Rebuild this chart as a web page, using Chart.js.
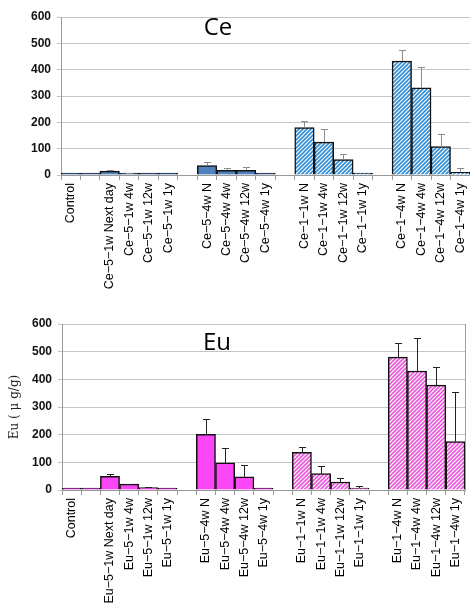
<!DOCTYPE html>
<html>
<head>
<meta charset="utf-8">
<script src="https://cdn.jsdelivr.net/npm/chart.js@4"></script>
<style>
  html, body { margin: 0; padding: 0; background: #fff; overflow: hidden; }
  #wrap { position: relative; width: 470px; height: 608px; overflow: hidden; }
  canvas { position: absolute; left: 0; }
</style>
</head>
<body>
<div id="wrap">
  <canvas id="ceChart" width="470" height="300" style="top:0"></canvas>
  <canvas id="euChart" width="470" height="298" style="top:310px"></canvas>
</div>
<script>
// Data (null = empty slot between groups)
const ceLabels = ['Control', '', 'Ce−5−1w Next day', 'Ce−5−1w 4w', 'Ce−5−1w 12w', 'Ce−5−1w 1y', '',
  'Ce−5−4w N', 'Ce−5−4w 4w', 'Ce−5−4w 12w', 'Ce−5−4w 1y', '',
  'Ce−1−1w N', 'Ce−1−1w 4w', 'Ce−1−1w 12w', 'Ce−1−1w 1y', '',
  'Ce−1−4w N', 'Ce−1−4w 4w', 'Ce−1−4w 12w', 'Ce−1−4w 1y'];
const ceValues = [0, 0, 15, 5, 3, 1, null, 36, 18, 18, 1, null, 180, 125, 59, 1, null, 433, 331, 108, 10];
const ceErrors = [null, null, 5, 1, null, null, null, 14, 7, 11, null, null, 26, 51, 19, null, null, 42, 81, 48, 18];

const euLabels = ['Control', '', 'Eu−5−1w Next day', 'Eu−5−1w 4w', 'Eu−5−1w 12w', 'Eu−5−1w 1y', '',
  'Eu−5−4w N', 'Eu−5−4w 4w', 'Eu−5−4w 12w', 'Eu−5−4w 1y', '',
  'Eu−1−1w N', 'Eu−1−1w 4w', 'Eu−1−1w 12w', 'Eu−1−1w 1y', '',
  'Eu−1−4w N', 'Eu−1−4w 4w', 'Eu−1−4w 12w', 'Eu−1−4w 1y'];
const euValues = [0, 0, 49, 21, 9, 2, null, 201, 98, 48, 7, null, 136, 59, 29, 7, null, 480, 430, 379, 175];
const euErrors = [null, null, 10, 2, 2, null, null, 56, 53, 42, null, null, 21, 28, 16, 9, null, 53, 121, 65, 181];

const yTicks = [0, 100, 200, 300, 400, 500, 600];

// diagonal stripe pattern for the "1" series
function hatch(color) {
    const c = document.createElement('canvas');
    c.width = c.height = 4;
    const g = c.getContext('2d');
    g.fillStyle = '#fff';
    g.fillRect(0, 0, 4, 4);
    g.strokeStyle = color;
    g.lineWidth = 1.6;
    g.beginPath();
    g.moveTo(0, 4); g.lineTo(4, 0);
    g.moveTo(-1, 1); g.lineTo(1, -1);
    g.moveTo(3, 5); g.lineTo(5, 3);
    g.stroke();
    return g.createPattern(c, 'repeat');
}

// upper error bars, drawn with the chart's own scales
const errorBars = {
    id: 'errorBars',
    afterDatasetsDraw(chart, args, opts) {
        const ctx = chart.ctx;
        const y = chart.scales.y;
        const meta = chart.getDatasetMeta(0);
        const vals = chart.data.datasets[0].data;
        ctx.save();
        ctx.strokeStyle = opts.color;
        ctx.lineWidth = 1;
        opts.errors.forEach((e, i) => {
            if (e == null || vals[i] == null) return;
            const bar = meta.data[i];
            const top = Math.round(y.getPixelForValue(vals[i] + e)) + 0.5;
            const x = Math.round(bar.x) + 0.5;
            ctx.beginPath();
            ctx.moveTo(x, bar.y);
            ctx.lineTo(x, top);
            ctx.moveTo(x - 3.5, top);
            ctx.lineTo(x + 3.5, top);
            ctx.stroke();
        });
        ctx.restore();
    }
};

// title text inside the plot + optional right frame line
const innerTitle = {
    id: 'innerTitle',
    afterDraw(chart, args, opts) {
        const ctx = chart.ctx;
        const a = chart.chartArea;
        ctx.save();
        if (opts.frame) {
            ctx.strokeStyle = '#a0a0a0';
            ctx.lineWidth = 1;
            ctx.beginPath();
            ctx.moveTo(Math.round(a.right) + 0.5, a.top);
            ctx.lineTo(Math.round(a.right) + 0.5, a.bottom);
            ctx.stroke();
        }
        ctx.fillStyle = '#000';
        ctx.font = '24px "Open Sans"';
        ctx.textAlign = 'center';
        ctx.textBaseline = 'middle';
        ctx.fillText(opts.text, opts.x, opts.y);
        ctx.restore();
    }
};

function makeChart(id, labels, values, errors, cfg) {
    const colors = values.map((v, i) => i >= 12 ? hatch(cfg.stripe) : cfg.solid);
    return new Chart(document.getElementById(id).getContext('2d'), {
        type: 'bar',
        data: {
            labels: labels,
            datasets: [{
                data: values,
                backgroundColor: colors,
                borderColor: '#111',
                borderWidth: 1.5,
                borderSkipped: 'bottom',
                minBarLength: 2,
                categoryPercentage: 1,
                barPercentage: 1
            }]
        },
        options: {
            responsive: false,
            animation: false,
            layout: { padding: { top: cfg.padTop, right: cfg.padRight, left: 0, bottom: 0 } },
            scales: {
                x: {
                    grid: { offset: true, drawOnChartArea: false, tickLength: 5, color: '#999' },
                    border: { color: '#999' },
                    ticks: {
                        autoSkip: false, minRotation: 90, maxRotation: 90, padding: 3,
                        color: '#000', font: { family: '"Liberation Sans"', size: 12.5 }
                    },
                    afterFit: s => { s.height = cfg.xHeight; s.paddingLeft = 0; s.paddingRight = 0; }
                },
                y: {
                    min: 0, max: 600,
                    afterBuildTicks: s => { s.ticks = yTicks.map(v => ({ value: v })); },
                    grid: { color: '#c4c4c4', tickLength: 4 },
                    border: { color: '#999' },
                    ticks: { padding: 6, color: '#111', font: { family: '"Liberation Sans"', size: 12, weight: 'bold' } },
                    title: {
                        display: !!cfg.yTitle, text: cfg.yTitle, color: '#222',
                        padding: { top: 8, bottom: 0 },
                        font: { family: '"DejaVu Serif"', size: 12 }
                    },
                    afterFit: s => { s.width = cfg.yWidth; }
                }
            },
            plugins: {
                legend: { display: false },
                tooltip: { enabled: false },
                errorBars: { errors: errors, color: cfg.errColor },
                innerTitle: { text: cfg.title, x: cfg.titleX, y: cfg.titleY, frame: cfg.frame }
            }
        },
        plugins: [errorBars, innerTitle]
    });
}

makeChart('ceChart', ceLabels, ceValues, ceErrors, {
    solid: '#4f81bd', stripe: '#2f8ed8', errColor: '#8c8c8c',
    padTop: 17, padRight: 0, xHeight: 125, yWidth: 61,
    title: 'Ce', titleX: 218, titleY: 28, frame: false
});

makeChart('euChart', euLabels, euValues, euErrors, {
    solid: '#fa46f5', stripe: '#ee55dd', errColor: '#222',
    padTop: 14, padRight: 5, xHeight: 118, yWidth: 62, yTitle: 'Eu ( μ g/g)',
    title: 'Eu', titleX: 217, titleY: 33, frame: true
});
</script>
</body>
</html>
